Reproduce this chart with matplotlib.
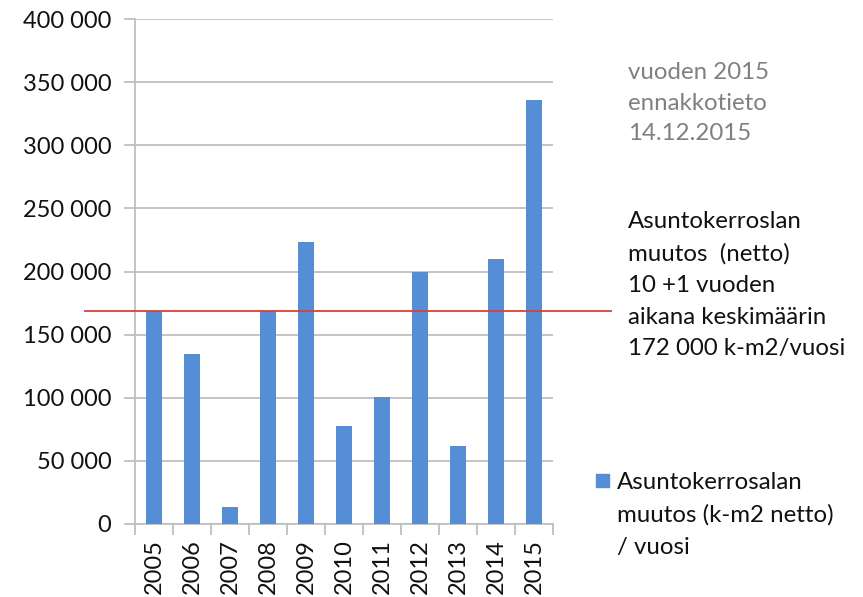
import matplotlib
matplotlib.use("Agg")
import matplotlib.pyplot as plt
from matplotlib.patches import Rectangle
from matplotlib.ticker import FuncFormatter
import matplotlib.transforms as mtransforms

plt.rcParams['font.family'] = ['Lato', 'DejaVu Sans']

years = ['2005', '2006', '2007', '2008', '2009', '2010', '2011', '2012', '2013', '2014', '2015']
values = [168700, 134700, 13500, 168700, 223200, 78000, 100400, 199400, 62000, 210200, 335800]
average_line = 169000
series_label = "Asuntokerrosalan\nmuutos (k-m2 netto)\n/ vuosi"
note_text = "vuoden 2015\nennakkotieto\n14.12.2015"
avg_text = "Asuntokerroslan\nmuutos  (netto)\n10 +1 vuoden\naikana keskimäärin\n172 000 k-m2/vuosi"
yticks = [0, 50000, 100000, 150000, 200000, 250000, 300000, 350000, 400000]

bar_color = '#558ED5'
grid_color = '#BFBFBF'
fs = 17
fs_text = 17.3

fig = plt.figure(figsize=(8.63, 5.97), dpi=100)
ax = fig.add_axes([135/863, 1 - 524/597, (553 - 135)/863, (524 - 19)/597])

x = list(range(len(years)))
ax.bar(x, values, width=0.4, color=bar_color, zorder=3)
ax.set_xlim(-0.5, len(years) - 0.5)
ax.set_ylim(0, 400000)

ax.set_yticks(yticks)
ax.yaxis.set_major_formatter(FuncFormatter(lambda v, p: f"{int(v):,}".replace(",", " ")))
ax.yaxis.grid(True, color=grid_color, linewidth=1.3, zorder=0)
ax.tick_params(axis='y', length=8, width=1.3, color=grid_color, labelsize=fs, pad=9, labelcolor='#111111')

ax.set_xticks([i - 0.5 for i in x] + [len(years) - 0.5])
ax.set_xticklabels([])
ax.set_xticks(x, minor=True)
ax.set_xticklabels(years, minor=True, rotation=90, fontsize=fs, color='#111111')
ax.tick_params(axis='x', which='major', length=8, width=1.3, color=grid_color)
ax.tick_params(axis='x', which='minor', length=0, pad=11)

for s in ['top', 'right']:
    ax.spines[s].set_visible(False)
for s in ['left', 'bottom']:
    ax.spines[s].set_color(grid_color)
    ax.spines[s].set_linewidth(1.3)

# average line, extending beyond the axes
trans = mtransforms.blended_transform_factory(fig.transFigure, ax.transData)
ax.plot([85/863, 611/863], [average_line, average_line], color='#D9403A',
        linewidth=1.3, transform=trans, clip_on=False, zorder=4)

fig.text(628/863, 1 - 103/597, note_text, color='#808080', fontsize=fs_text,
         va='center', ha='left', linespacing=1.55)
fig.text(628/863, 1 - 285/597, avg_text, color='#111111', fontsize=fs_text,
         va='center', ha='left', linespacing=1.63)

# legend
fig.patches.append(Rectangle((596/863, 1 - 487/597), 13/863, 13/597,
                             transform=fig.transFigure, color=bar_color))
fig.text(617/863, 1 - 515/597, series_label, color='#111111', fontsize=fs_text,
         va='center', ha='left', linespacing=1.63)

fig.savefig('out.png', dpi=100)
